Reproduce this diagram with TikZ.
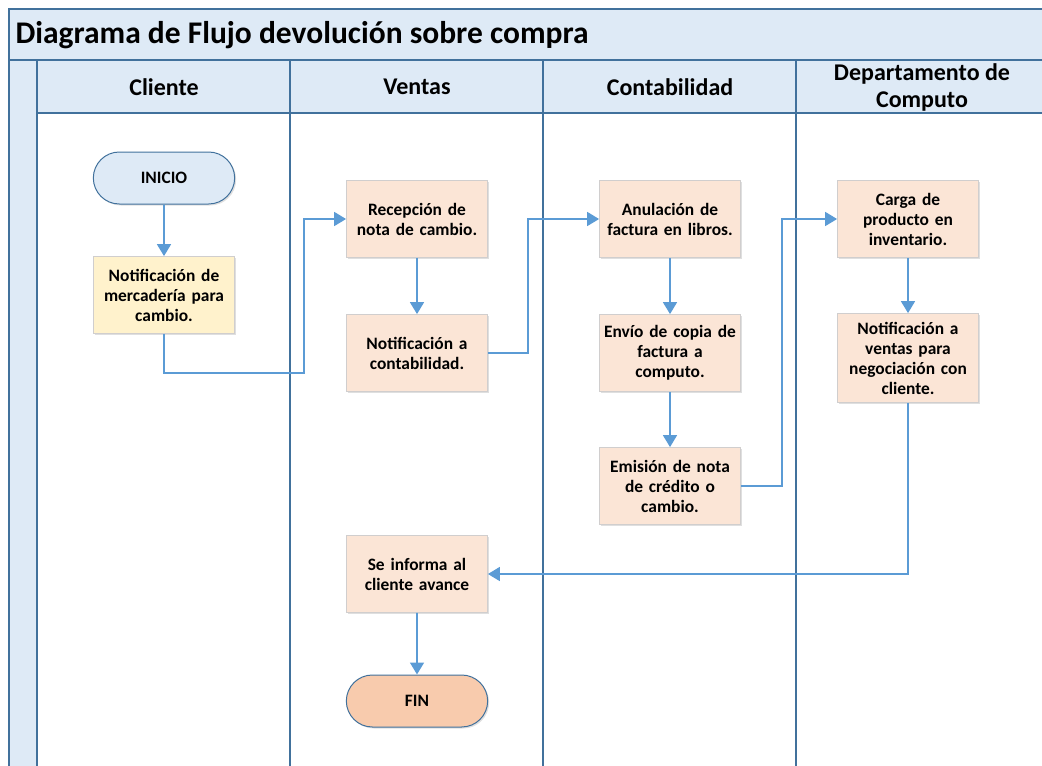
\documentclass[tikz,border=0pt]{standalone}
\usepackage{fontspec}
\setmainfont{Carlito}
\usetikzlibrary{shapes.misc,arrows.meta,shadows}
\definecolor{laneblue}{HTML}{41719C}
\definecolor{flowblue}{HTML}{5B9BD5}
\definecolor{headfill}{HTML}{DEEAF6}
\definecolor{procfill}{HTML}{FBE5D6}
\definecolor{notefill}{HTML}{FFF2CC}
\definecolor{endfill}{HTML}{F8CBAD}
\definecolor{boxgray}{HTML}{D0CECE}
\begin{document}
\begin{tikzpicture}[x=1pt,y=-1pt,
  lane/.style={draw=laneblue,line width=1.4pt},
  flow/.style={draw=flowblue,line width=1.6pt,-{Triangle[length=12pt,width=14pt]}},
  proc/.style={rectangle,draw=boxgray,line width=0.8pt,fill=procfill,
    minimum width=141pt,minimum height=77pt,text width=137pt,align=center,
    font=\bfseries\fontsize{17.4}{20}\selectfont,inner sep=2pt,
    drop shadow={shadow xshift=1.5pt,shadow yshift=-1.5pt,opacity=0.25}},
  term/.style={rounded rectangle,draw=laneblue,line width=1pt,
    minimum width=148pt,minimum height=52pt,
    font=\bfseries\fontsize{17.4}{20}\selectfont,
    drop shadow={shadow xshift=1.5pt,shadow yshift=-1.5pt,opacity=0.25}},
  head/.style={font=\bfseries\fontsize{24}{27}\selectfont,align=center}
]
\useasboundingbox (0,0) rectangle (1042,766);
% pool frame and swimlanes
\begin{scope}
\clip (0,0) rectangle (1042,766);
\fill[headfill] (9,9) rectangle (1070,113);
\fill[headfill] (9,9) rectangle (37,800);
\draw[lane] (9,800) -- (9,9) -- (1070,9);
\draw[lane] (9,60) -- (1070,60);
\draw[lane] (37,113) -- (1070,113);
\foreach \x in {37,290,543,796} \draw[lane] (\x,60) -- (\x,800);
\end{scope}
\node[anchor=west,font=\bfseries\fontsize{31.5}{36}\selectfont] (title) at (12,35) {Diagrama de Flujo devolución sobre compra};
\node[head] (hcli) at (164,87) {Cliente};
\node[head] (hven) at (417,87) {Ventas};
\node[head] (hcon) at (670,87) {Contabilidad};
\node[head] (hdep) at (922,87) {Departamento de\\Computo};

% steps
\node[term,fill=headfill] (ini) at (164,178) {INICIO};
\node[proc,fill=notefill] (n1) at (164,295) {Notificación de\\mercadería para\\cambio.};
\node[proc] (v1) at (417,219) {Recepción de\\nota de cambio.};
\node[proc] (v2) at (417,353) {Notificación a\\contabilidad.};
\node[proc] (c1) at (670,219) {Anulación de\\factura en libros.};
\node[proc] (c2) at (670,353) {Envío de copia de\\factura a\\computo.};
\node[proc] (c3) at (670,486) {Emisión de nota\\de crédito o\\cambio.};
\node[proc] (d1) at (908,219) {Carga de\\producto en\\inventario.};
\node[proc,minimum height=89pt] (d2) at (908,358) {Notificación a\\ventas para\\negociación con\\cliente.};
\node[proc] (v3) at (417,574) {Se informa al\\cliente avance};
\node[term,fill=endfill] (fin) at (417,701) {FIN};

% connectors
\draw[flow] (ini) -- (n1);
\draw[flow] (n1.south) |- (304,373) |- (v1.west);
\draw[flow] (v1) -- (v2);
\draw[flow] (v2.east) -| (528,300) |- (c1.west);
\draw[flow] (c1) -- (c2);
\draw[flow] (c2) -- (c3);
\draw[flow] (c3.east) -| (782,300) |- (d1.west);
\draw[flow] (d1) -- (d2);
\draw[flow] (d2.south) |- (v3.east);
\draw[flow] (v3) -- (fin);
\end{tikzpicture}
\end{document}
